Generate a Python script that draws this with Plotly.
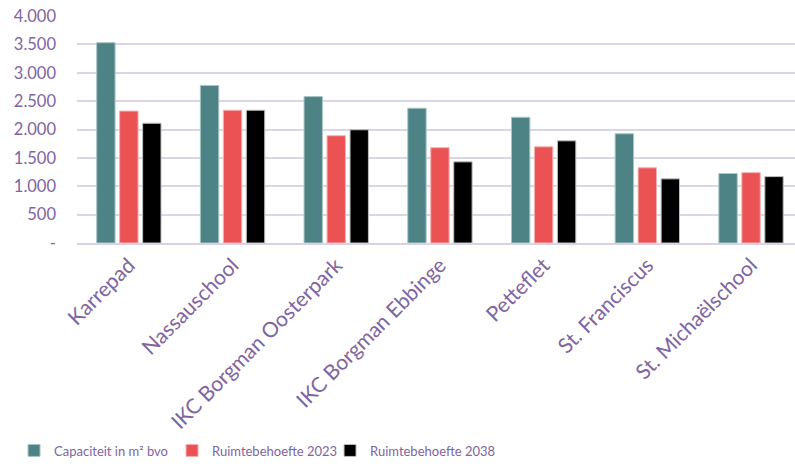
import plotly.graph_objects as go

categories = ["Karrepad", "Nassauschool", "IKC Borgman Oosterpark", "IKC Borgman Ebbinge",
              "Petteflet", "St. Franciscus", "St. Michaëlschool"]
capaciteit = [3530, 2775, 2580, 2375, 2215, 1925, 1225]
behoefte_2023 = [2325, 2340, 1890, 1680, 1695, 1325, 1240]
behoefte_2038 = [2110, 2340, 1995, 1430, 1800, 1130, 1170]
series_names = ["Capaciteit in m² bvo", "Ruimtebehoefte 2023", "Ruimtebehoefte 2038"]
y_tick_vals = [0, 500, 1000, 1500, 2000, 2500, 3000, 3500, 4000]
y_tick_text = ["-", "500", "1.000", "1.500", "2.000", "2.500", "3.000", "3.500", "4.000"]

colors = ["#4E8385", "#EB5254", "#000000"]
line_colors = ["#A9C5C6", "#F6B0B1", "#BFBFBF"]
purple = "#8064A2"
font_family = "Lato, 'Noto Sans', sans-serif"

fig = go.Figure()
for name, vals, c, lc in zip(series_names, [capaciteit, behoefte_2023, behoefte_2038], colors, line_colors):
    fig.add_trace(go.Bar(x=categories, y=vals, name=name,
                         marker=dict(color=c, line=dict(color=lc, width=1))))
# invisible spacer entry so the last legend label is not clipped
fig.add_trace(go.Scatter(x=[None], y=[None], mode="markers", name=" ",
                         marker=dict(color="rgba(0,0,0,0)", size=1,
                                     line=dict(width=0, color="rgba(0,0,0,0)")),
                         hoverinfo="skip"))

fig.update_layout(
    width=795, height=473,
    margin=dict(l=77, r=0, t=16, b=230, autoexpand=False),
    paper_bgcolor="white", plot_bgcolor="white",
    barmode="group", bargap=0.335, bargroupgap=0.2,
    font=dict(family=font_family, color=purple, size=15),
    showlegend=True,
    legend=dict(orientation="h", x=-0.0877, y=-0.914, xanchor="left", yanchor="middle",
                font=dict(size=13, color=purple), entrywidth=113, entrywidthmode="pixels",
                bgcolor="rgba(0,0,0,0)"),
    xaxis=dict(range=[-0.5, 6.424], tickangle=-45, tickfont=dict(size=21, color=purple),
               showline=True, linecolor="#D9D2E4", linewidth=1.5, ticks="", showgrid=False,
               automargin=False),
    yaxis=dict(range=[0, 4000], tickvals=y_tick_vals, ticktext=y_tick_text,
               tickfont=dict(size=16.5, color=purple), showgrid=True, gridcolor="#DCD5E6",
               gridwidth=1.5, zeroline=False, ticks="", ticklabelstandoff=20,
               automargin=False),
)

fig.write_html("out.html", config={"displayModeBar": False},
               post_script="document.body.style.margin='0';")
